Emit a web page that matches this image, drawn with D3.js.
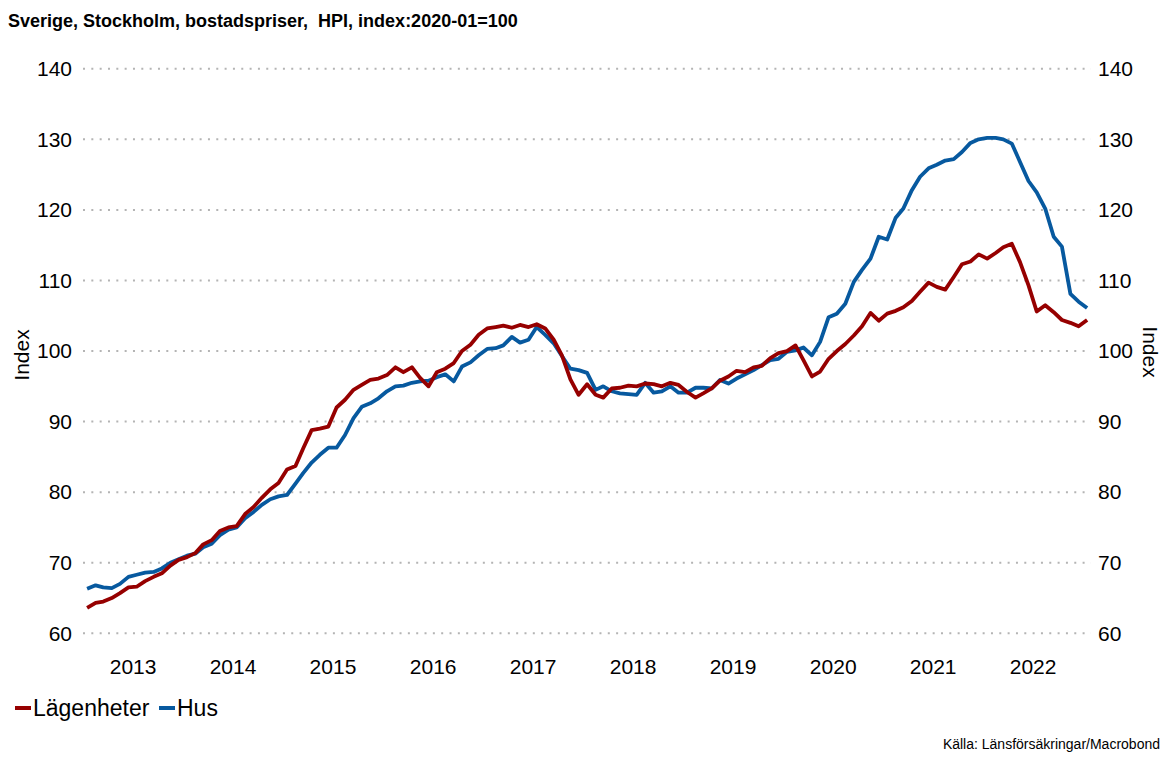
<!DOCTYPE html>
<html>
<head>
<meta charset="utf-8">
<script src="https://cdn.jsdelivr.net/npm/d3@7"></script>
<style>
body { margin: 0; background: #fff; }
svg { display: block; font-family: Arial, 'Liberation Sans', sans-serif; }
.title { white-space: pre; }
</style>
</head>
<body>
<div class="chart"></div>
<script>
const WIDTH = 1171
const HEIGHT = 763
const RED = '#960000'
const BLUE = '#07599f'
const GRID = '#b4b4b4'

const TITLE = 'Sverige, Stockholm, bostadspriser,  HPI, index:2020-01=100'
const SOURCE = 'Källa: Länsförsäkringar/Macrobond'
const YEARS = [2013, 2014, 2015, 2016, 2017, 2018, 2019, 2020, 2021, 2022]
const Y_TICKS = [60, 70, 80, 90, 100, 110, 120, 130, 140]
const SERIES = ['Lägenheter', 'Hus']

// monthly, 2013-01 .. 2023-01
const lagenheter = [
	63.6, 64.3, 64.5, 65.0, 65.7, 66.5, 66.6, 67.4, 68.0, 68.5, 69.6, 70.4,
	70.8, 71.4, 72.6, 73.2, 74.5, 75.0, 75.2, 76.9, 77.9, 79.2, 80.4, 81.3,
	83.2, 83.7, 86.2, 88.8, 89.0, 89.3, 92.0, 93.1, 94.5, 95.2, 95.9, 96.1,
	96.6, 97.7, 97.0, 97.7, 96.2, 95.0, 97.0, 97.5, 98.3, 100.0, 100.9, 102.3,
	103.2, 103.4, 103.6, 103.3, 103.7, 103.4, 103.8, 103.2, 101.6, 99.4, 96.0, 93.8,
	95.3, 93.8, 93.4, 94.7, 94.8, 95.1, 95.0, 95.4, 95.3, 95.0, 95.5, 95.2,
	94.2, 93.4, 94.0, 94.7, 95.8, 96.4, 97.2, 97.0, 97.7, 97.9, 99.0, 99.7,
	100.0, 100.8, 98.7, 96.4, 97.1, 98.9, 100.0, 101.0, 102.2, 103.5, 105.4, 104.3,
	105.3, 105.7, 106.2, 107.1, 108.4, 109.7, 109.1, 108.7, 110.5, 112.3, 112.7, 113.7,
	113.1, 113.9, 114.7, 115.2, 112.6, 109.3, 105.6, 106.5, 105.5, 104.4, 104.0, 103.5,
	104.4,
]

const hus = [
	66.3, 66.8, 66.5, 66.4, 67.0, 68.0, 68.3, 68.6, 68.7, 69.2, 70.0, 70.5,
	71.0, 71.3, 72.2, 72.7, 73.9, 74.7, 75.0, 76.3, 77.2, 78.2, 79.0, 79.4,
	79.6, 81.2, 82.7, 84.2, 85.3, 86.3, 86.3, 88.1, 90.5, 92.1, 92.6, 93.3,
	94.3, 95.0, 95.1, 95.5, 95.7, 95.8, 96.3, 96.7, 95.7, 97.8, 98.4, 99.4,
	100.3, 100.4, 100.8, 102.0, 101.2, 101.6, 103.4, 102.3, 101.1, 99.3, 97.5, 97.3,
	96.9, 94.5, 95.0, 94.3, 94.0, 93.9, 93.8, 95.5, 94.1, 94.3, 95.0, 94.1,
	94.1, 94.8, 94.8, 94.7, 95.9, 95.4, 96.1, 96.7, 97.3, 98.0, 98.7, 98.9,
	99.9, 100.1, 100.5, 99.4, 101.3, 104.8, 105.3, 106.7, 109.8, 111.5, 113.1, 116.2,
	115.8, 118.9, 120.2, 122.8, 124.7, 125.9, 126.4, 127.0, 127.2, 128.2, 129.5, 130.0,
	130.2, 130.2, 130.0, 129.4, 126.8, 124.1, 122.5, 120.2, 116.2, 114.8, 108.1, 107.0,
	106.1,
]

const months = d3.timeMonth.range(new Date(2013, 0, 1), new Date(2023, 1, 1))

function toPoints(values) {
	return values.map((v, i) => ({ date: d3.timeDay.offset(months[i], 15), value: v }))
}

const svg = d3.select('.chart').append('svg')
	.attr('width', WIDTH)
	.attr('height', HEIGHT)

const x = d3.scaleTime()
	.domain([new Date(2013, 0, 1), new Date(2023, 0, 1)])
	.range([83, 1083])

const y = d3.scaleLinear()
	.domain([60, 140])
	.range([633.3, 68.8])

svg.append('text')
	.attr('class', 'title')
	.attr('x', 8)
	.attr('y', 27)
	.attr('font-size', 18)
	.attr('font-weight', 'bold')
	.text(TITLE)

// grid
svg.append('g').attr('class', 'grid')
	.selectAll('line')
	.data(Y_TICKS)
	.join('line')
	.attr('x1', 83)
	.attr('x2', 1091)
	.attr('y1', d => y(d))
	.attr('y2', d => y(d))
	.attr('stroke', GRID)
	.attr('stroke-width', 2)
	.attr('stroke-dasharray', '2,6.33')

function styleAxis(g) {
	g.select('.domain').remove()
	g.attr('font-family', null).attr('font-size', 21)
	g.selectAll('text').attr('fill', '#000')
}

svg.append('g')
	.attr('transform', 'translate(72,0)')
	.call(d3.axisLeft(y).tickValues(Y_TICKS).tickSize(0).tickPadding(0))
	.call(styleAxis)

svg.append('g')
	.attr('transform', 'translate(1098,0)')
	.call(d3.axisRight(y).tickValues(Y_TICKS).tickSize(0).tickPadding(0))
	.call(styleAxis)

svg.append('g')
	.attr('transform', 'translate(0,659)')
	.call(d3.axisBottom(x)
		.tickValues(YEARS.map(yr => new Date(yr, 6, 1)))
		.tickFormat(d3.timeFormat('%Y'))
		.tickSize(0).tickPadding(0))
	.call(styleAxis)

svg.append('text')
	.attr('transform', 'translate(29,355) rotate(-90)')
	.attr('text-anchor', 'middle')
	.attr('font-size', 21)
	.text('Index')

svg.append('text')
	.attr('transform', 'translate(1143,352) rotate(90)')
	.attr('text-anchor', 'middle')
	.attr('font-size', 21)
	.text('Index')

const line = d3.line()
	.x(d => x(d.date))
	.y(d => y(d.value))

const plot = svg.append('g').attr('class', 'g-plot')

plot.append('path')
	.datum(toPoints(hus))
	.attr('fill', 'none')
	.attr('stroke', BLUE)
	.attr('stroke-width', 3.8)
	.attr('stroke-linejoin', 'round')
	.attr('d', line)

plot.append('path')
	.datum(toPoints(lagenheter))
	.attr('fill', 'none')
	.attr('stroke', RED)
	.attr('stroke-width', 3.8)
	.attr('stroke-linejoin', 'round')
	.attr('d', line)

// legend
const legend = svg.append('g').attr('transform', 'translate(0,708)')
const items = [{ name: SERIES[0], color: RED, x: 15 }, { name: SERIES[1], color: BLUE, x: 159 }]

legend.selectAll('line')
	.data(items)
	.join('line')
	.attr('x1', d => d.x)
	.attr('x2', d => d.x + 16)
	.attr('stroke', d => d.color)
	.attr('stroke-width', 4)

legend.selectAll('text')
	.data(items)
	.join('text')
	.attr('x', d => d.x + 18)
	.attr('y', 7.5)
	.attr('font-size', 23)
	.text(d => d.name)

svg.append('text')
	.attr('x', 1160)
	.attr('y', 749)
	.attr('text-anchor', 'end')
	.attr('font-size', 14)
	.text(SOURCE)
</script>
</body>
</html>
